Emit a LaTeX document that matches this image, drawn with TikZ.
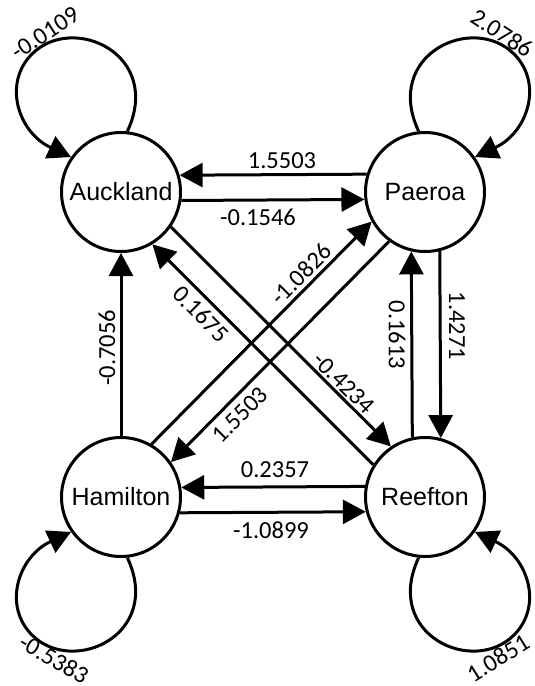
\documentclass[tikz,border=0pt]{standalone}
\usepackage{fontspec}
\setmainfont{Liberation Sans}
\newfontfamily\numfont{Carlito}
\usetikzlibrary{arrows.meta}
\begin{document}
\begin{tikzpicture}[x=1pt,y=1pt,
  state/.style={circle,draw,line width=3pt,minimum size=119pt,inner sep=0pt,font=\fontsize{25}{30}\selectfont},
  arr/.style={line width=3pt,-{Triangle[length=23pt,width=24pt]}},
  lab/.style={font=\numfont\fontsize{24.5}{29}\selectfont,inner sep=0pt}]
\fill[white] (0,0) rectangle (535,-686);
\useasboundingbox (0,0) rectangle (535,-686);
\node[state] (A) at (121,-192) {Auckland};
\node[state] (P) at (425,-192) {Paeroa};
\node[state] (H) at (121,-497) {Hamilton};
\node[state] (R) at (425,-497) {Reefton};
\coordinate (la) at (32,-54);
\coordinate (lp) at (514,-54);
\coordinate (lh) at (32,-635);
\coordinate (lr) at (514,-635);
% straight connectors
\draw[arr] (P.163.82) -- (A.16.18);
\draw[arr] (A.352.46) -- (P.187.54);
\draw[arr] (R.170.56) -- (H.9.44);
\draw[arr] (H.345.76) -- (R.194.24);
\draw[arr] (R.102.30) -- (P.257.70);
\draw[arr] (P.284.24) -- (R.75.76);
\draw[arr] (H.north) -- (A.south);
\draw[arr] (A.325.39) -- (R.124.61);
\draw[arr] (R.148.27) -- (A.301.73);
\draw[arr] (H.60.21) -- (P.209.79);
\draw[arr] (P.234.44) -- (H.35.56);
% self loops
\draw[arr] (A.84) to[out=65,in=45,out distance=85pt,in distance=58pt] (la)
  to[out=225,in=155,out distance=42pt,in distance=58pt] (A.145);
\draw[arr] (P.96) to[out=115,in=135,out distance=85pt,in distance=58pt] (lp)
  to[out=315,in=25,out distance=42pt,in distance=58pt] (P.35);
\draw[arr] (H.276) to[out=295,in=315,out distance=85pt,in distance=58pt] (lh)
  to[out=135,in=205,out distance=42pt,in distance=58pt] (H.215);
\draw[arr] (R.264) to[out=245,in=225,out distance=85pt,in distance=58pt] (lr)
  to[out=45,in=335,out distance=42pt,in distance=58pt] (R.325);
% labels
\node[lab] (t1) at (282,-161) {1.5503};
\node[lab] (t2) at (258,-217) {-0.1546};
\node[lab] (t3) at (275,-470) {0.2357};
\node[lab] (t4) at (271,-530) {-1.0899};
\node[lab,rotate=90] (t5) at (107,-348) {-0.7056};
\node[lab,rotate=-90] (t6) at (397,-335) {0.1613};
\node[lab,rotate=-90] (t7) at (457,-326) {1.4271};
\node[lab,rotate=45] (t8) at (301,-274) {-1.0826};
\node[lab,rotate=-45] (t9) at (201,-314) {0.1675};
\node[lab,rotate=-45] (t10) at (344,-383) {-0.4234};
\node[lab,rotate=45] (t11) at (240,-415) {1.5503};
\node[lab,rotate=33] (t12) at (45,-33) {-0.0109};
\node[lab,rotate=-33] (t13) at (502,-33) {2.0786};
\node[lab,rotate=-30] (t14) at (54,-659) {-0.5383};
\node[lab,rotate=32] (t15) at (498,-658) {1.0851};
\end{tikzpicture}
\end{document}
